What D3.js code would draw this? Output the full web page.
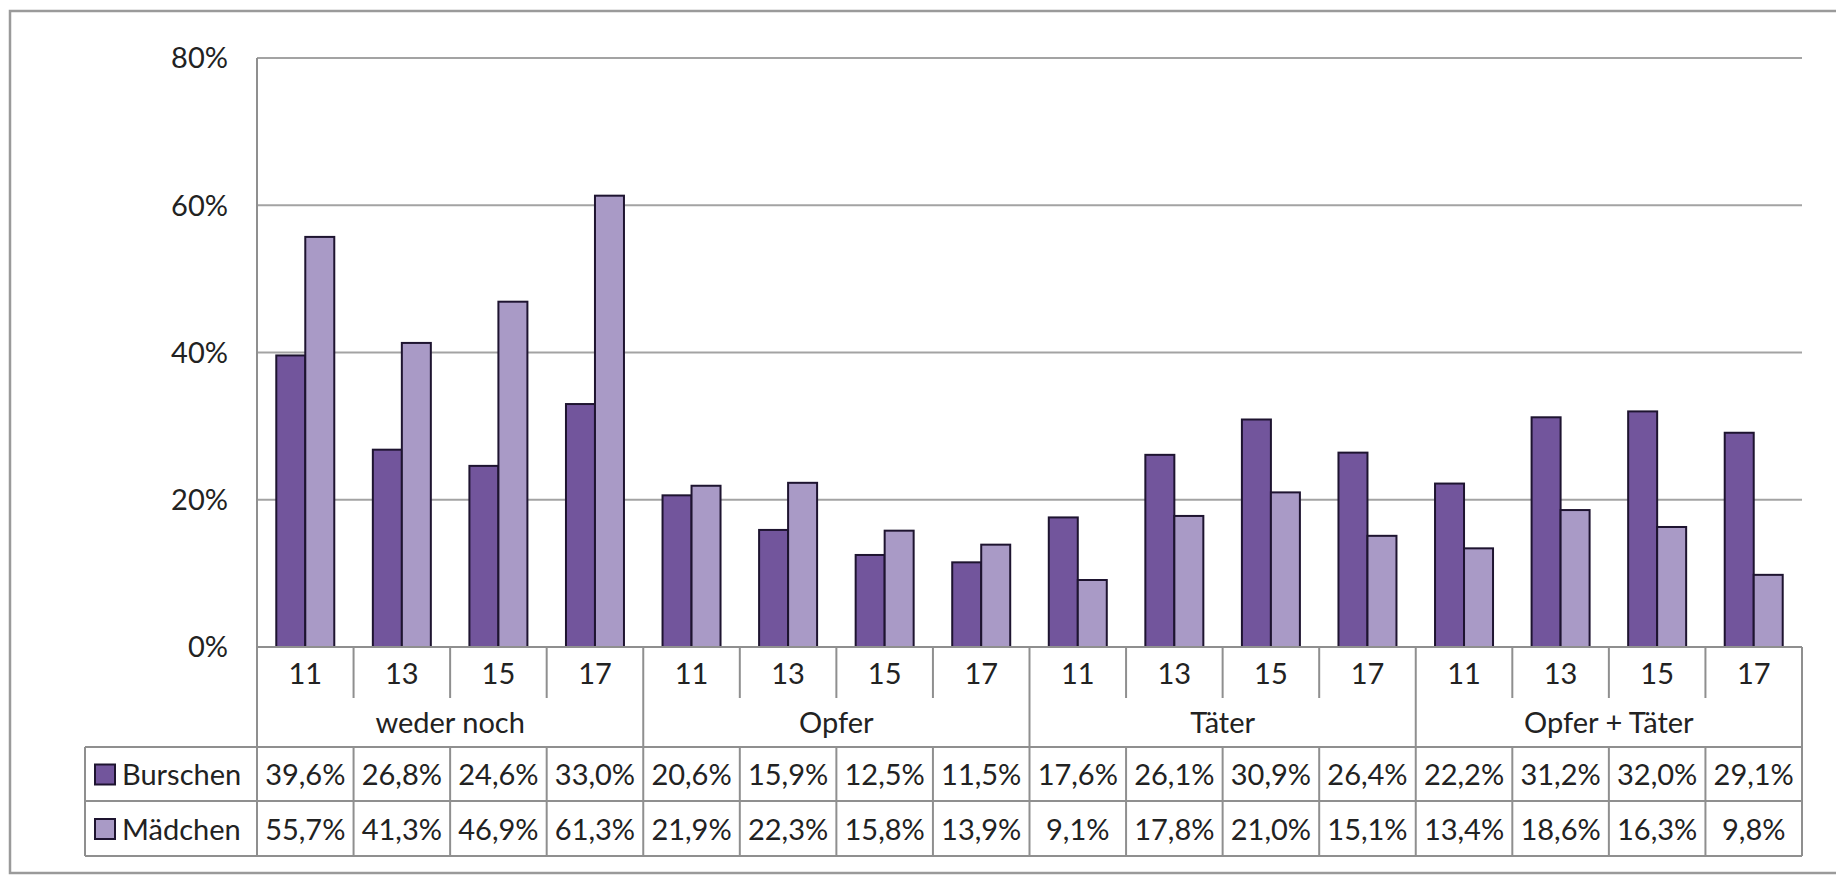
<!DOCTYPE html>
<html><head><meta charset="utf-8">
<script src="https://cdn.jsdelivr.net/npm/d3@7"></script>
<style>
html,body{margin:0;padding:0;background:#fff;}
svg text{font-family:Lato,"Open Sans",sans-serif;fill:#222;}
</style></head>
<body>
<svg id="chart" width="1836" height="876"></svg>
<script>
const groups = ["weder noch", "Opfer", "Täter", "Opfer + Täter"];
const ages = ["11", "13", "15", "17"];
const seriesNames = ["Burschen", "Mädchen"];
const burschen = [39.6, 26.8, 24.6, 33.0, 20.6, 15.9, 12.5, 11.5, 17.6, 26.1, 30.9, 26.4, 22.2, 31.2, 32.0, 29.1];
const maedchen = [55.7, 41.3, 46.9, 61.3, 21.9, 22.3, 15.8, 13.9, 9.1, 17.8, 21.0, 15.1, 13.4, 18.6, 16.3, 9.8];
const yTicks = [0, 20, 40, 60, 80];
const colors = ["#72559c", "#a99ac6"];

const fmt = v => d3.format(".1f")(v).replace(".", ",") + "%";

const svg = d3.select("#chart");
const L = 257, R = 1802, T = 58, B = 647;
const rows = [647, 698, 747, 801, 856];
const tableLeft = 85;
const gridColor = "#a3a3a3";
const lineColor = "#8f8f8f";
const fs = 29;

// outer border
svg.append("rect").attr("x", 10).attr("y", 11).attr("width", 1840).attr("height", 862)
  .attr("fill", "none").attr("stroke", "#9a9a9a").attr("stroke-width", 2.5);

const cells = [];
groups.forEach(g => ages.forEach(a => cells.push(g + "|" + a)));

const x = d3.scaleBand().domain(cells).range([L, R]).padding(0);
const xs = d3.scaleBand().domain(seriesNames).range([0, x.bandwidth()]).paddingInner(0).paddingOuter(0.665);
const y = d3.scaleLinear().domain([0, 80]).range([B, T]);

// gridlines
svg.append("g").selectAll("line").data(yTicks.filter(t => t > 0)).join("line")
  .attr("x1", L).attr("x2", R).attr("y1", d => y(d)).attr("y2", d => y(d))
  .attr("stroke", gridColor).attr("stroke-width", 2);

// y axis labels
svg.append("g").selectAll("text").data(yTicks).join("text")
  .attr("x", 228).attr("y", d => y(d)).attr("dy", "0.36em")
  .attr("text-anchor", "end").attr("font-size", fs).text(d => d + "%");

// bars
const series = [burschen, maedchen];
series.forEach((vals, si) => {
  svg.append("g").selectAll("rect").data(vals).join("rect")
    .attr("x", (d, i) => x(cells[i]) + xs(seriesNames[si]))
    .attr("y", d => y(d))
    .attr("width", xs.bandwidth())
    .attr("height", d => B - y(d))
    .attr("fill", colors[si])
    .attr("stroke", "#1e1430").attr("stroke-width", 2);
});

// table lines
const tl = svg.append("g").attr("stroke", lineColor).attr("stroke-width", 2);
tl.append("line").attr("x1", L).attr("x2", R).attr("y1", rows[0]).attr("y2", rows[0]);
[rows[2], rows[3], rows[4]].forEach(yy =>
  tl.append("line").attr("x1", tableLeft).attr("x2", R).attr("y1", yy).attr("y2", yy));
tl.append("line").attr("x1", tableLeft).attr("x2", tableLeft).attr("y1", rows[2]).attr("y2", rows[4]);
tl.append("line").attr("x1", L).attr("x2", L).attr("y1", T).attr("y2", rows[4]);
tl.append("line").attr("x1", R).attr("x2", R).attr("y1", rows[0]).attr("y2", rows[4]);
cells.forEach((c, i) => {
  if (i === 0) return;
  const xx = x(c);
  if (i % 4 === 0) {
    tl.append("line").attr("x1", xx).attr("x2", xx).attr("y1", rows[0]).attr("y2", rows[4]);
  } else {
    tl.append("line").attr("x1", xx).attr("x2", xx).attr("y1", rows[0]).attr("y2", rows[1]);
    tl.append("line").attr("x1", xx).attr("x2", xx).attr("y1", rows[2]).attr("y2", rows[4]);
  }
});

// age labels
svg.append("g").selectAll("text").data(cells).join("text")
  .attr("x", d => x(d) + x.bandwidth() / 2).attr("y", (rows[0] + rows[1]) / 2 + 1).attr("dy", "0.36em")
  .attr("text-anchor", "middle").attr("font-size", fs).text(d => d.split("|")[1]);

// group labels
svg.append("g").selectAll("text").data(groups).join("text")
  .attr("x", g => x(g + "|" + ages[0]) + 2 * x.bandwidth())
  .attr("y", (rows[1] + rows[2]) / 2).attr("dy", "0.36em")
  .attr("text-anchor", "middle").attr("font-size", fs).text(g => g);

// data table rows
series.forEach((vals, si) => {
  const yc = (rows[2 + si] + rows[3 + si]) / 2 + 1;
  svg.append("rect").attr("x", 95).attr("y", yc - 10.5).attr("width", 20).attr("height", 20)
    .attr("fill", colors[si]).attr("stroke", "#1e1430").attr("stroke-width", 2);
  svg.append("text").attr("x", 122).attr("y", yc).attr("dy", "0.36em")
    .attr("font-size", fs).text(seriesNames[si]);
  svg.append("g").selectAll("text").data(vals).join("text")
    .attr("x", (d, i) => x(cells[i]) + x.bandwidth() / 2).attr("y", yc).attr("dy", "0.36em")
    .attr("text-anchor", "middle").attr("font-size", fs).text(d => fmt(d));
});
</script>
</body></html>
